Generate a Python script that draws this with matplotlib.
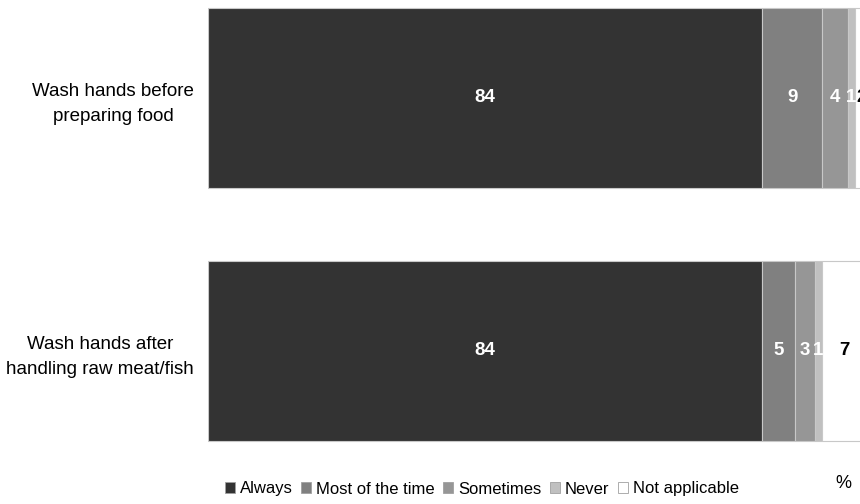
import numpy as np
import matplotlib.pyplot as plt
from matplotlib.patches import Patch

plt.rcParams['font.family'] = ['Liberation Sans', 'DejaVu Sans']

categories = ["Wash hands before\npreparing food", "Wash hands after\nhandling raw meat/fish"]
series = ["Always", "Most of the time", "Sometimes", "Never", "Not applicable"]
values = np.array([
    [84, 9, 4, 1, 2],
    [84, 5, 3, 1, 7],
])
colors = ["#333333", "#808080", "#969696", "#c0c0c0", "#ffffff"]
text_colors = ["white", "white", "white", "white", "black"]

fig = plt.figure(figsize=(8.6, 5.04), dpi=100)
ax = fig.add_axes([208/860, 44/504, 660/860, 460/504])

y = np.arange(len(categories))
left = np.zeros(len(categories))
for j, name in enumerate(series):
    ax.barh(y, values[:, j], left=left, height=0.71, color=colors[j],
            edgecolor="#c8c8c8", linewidth=0.8, label=name)
    for i in range(len(categories)):
        ax.text(left[i] + values[i, j] / 2, y[i], str(values[i, j]),
                ha="center", va="center", color=text_colors[j],
                fontsize=13.5, fontweight="bold")
    left += values[:, j]

ax.set_xlim(0, 100)
ax.set_ylim(1.431, -0.387)
ax.set_yticks(y)
ax.set_yticklabels(categories, fontsize=13.5, ha="right", multialignment="center",
                   linespacing=1.6)
ax.tick_params(axis="y", length=0, pad=10)
ax.set_xticks([])
for s in ax.spines.values():
    s.set_visible(False)

handles = [Patch(facecolor=c, edgecolor="#a0a0a0", linewidth=0.6) for c in colors]
fig.legend(handles, series, loc="center", bbox_to_anchor=(482/860, 1 - 489/504),
           ncol=5, frameon=False, fontsize=12, handlelength=0.6, handleheight=0.6,
           handletextpad=0.3, columnspacing=0.5)
fig.text(843/860, 1 - 483/504, "%", fontsize=13, ha="center", va="center")

fig.savefig("out.png", dpi=100)
